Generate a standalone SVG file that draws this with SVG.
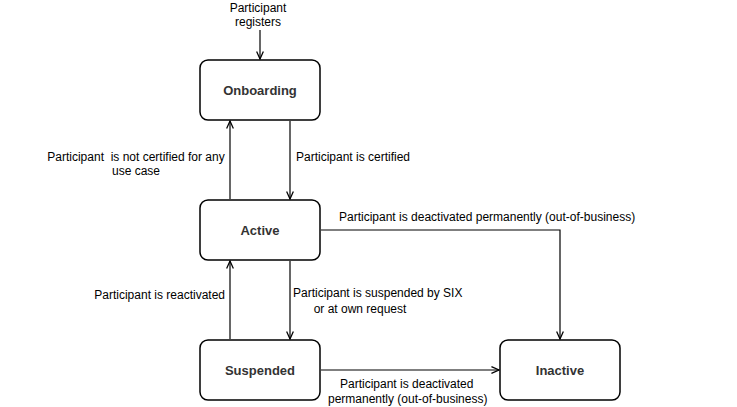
<svg xmlns="http://www.w3.org/2000/svg" width="737" height="407" viewBox="0 0 737 407">
<style>
.n{fill:#fff;stroke:#000;stroke-width:1.5}
.t{font-family:"Liberation Sans",Arial,sans-serif;font-size:13px;font-weight:bold;fill:#333;text-anchor:middle}
.l{font-family:"Liberation Sans",Arial,sans-serif;font-size:12px;fill:#000}
.c{fill:none;stroke:#000;stroke-width:1.2;marker-end:url(#a)}
</style>
<defs><marker id="a" viewBox="0 0 10 10" refX="9" refY="5" markerWidth="7" markerHeight="7" orient="auto"><path d="M0,1 L9,5 L0,9" fill="none" stroke="#000" stroke-width="1.5"/></marker></defs>
<rect width="737" height="407" fill="#fff"/>
<g id="connectors">
<path class="c" d="M260,30 V59"/>
<path class="c" d="M290,121 V199"/>
<path class="c" d="M230,199 V121"/>
<path class="c" d="M290,261 V339"/>
<path class="c" d="M230,339 V261"/>
<path class="c" d="M321,230 H560 V339"/>
<path class="c" d="M321,370 H499"/>
</g>
<g id="onboarding"><rect class="n" x="200" y="60" width="120" height="60" rx="8"/><text class="t" x="260" y="95">Onboarding</text></g>
<g id="active"><rect class="n" x="200" y="200" width="120" height="60" rx="8"/><text class="t" x="260" y="235">Active</text></g>
<g id="suspended"><rect class="n" x="200" y="340" width="120" height="60" rx="8"/><text class="t" x="260" y="375">Suspended</text></g>
<g id="inactive"><rect class="n" x="500" y="340" width="120" height="60" rx="8"/><text class="t" x="560" y="375">Inactive</text></g>
<g id="labels">
<text class="l" x="258" y="12" text-anchor="middle">Participant</text>
<text class="l" x="258" y="26" text-anchor="middle">registers</text>
<text class="l" x="136" y="161" text-anchor="middle" xml:space="preserve">Participant  is not certified for any</text>
<text class="l" x="136" y="175" text-anchor="middle">use case</text>
<text class="l" x="296" y="161">Participant is certified</text>
<text class="l" x="339" y="221">Participant is deactivated permanently (out-of-business)</text>
<text class="l" x="225" y="299" text-anchor="end">Participant is reactivated</text>
<text class="l" x="293" y="297">Participant is suspended by SIX</text>
<text class="l" x="360" y="313" text-anchor="middle">or at own request</text>
<text class="l" x="340" y="388">Participant is deactivated</text>
<text class="l" x="328" y="403">permanently (out-of-business)</text>
</g>
</svg>
